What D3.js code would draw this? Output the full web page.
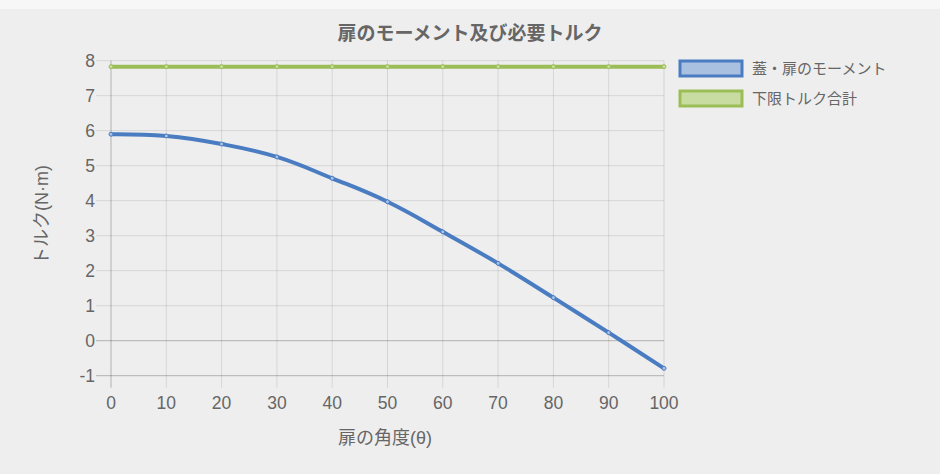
<!DOCTYPE html>
<html><head><meta charset="utf-8">
<script src="https://cdn.jsdelivr.net/npm/d3@7"></script>
<style>
html,body{margin:0;padding:0;background:#eeeeee;}
svg{display:block;}
text{font-family:"Liberation Sans","Noto Sans CJK JP",sans-serif;}
</style></head><body>
<svg id="c" width="940" height="474"></svg>
<script>
const angles = [0,10,20,30,40,50,60,70,80,90,100];
const momentValues = [5.90,5.85,5.62,5.25,4.64,3.97,3.11,2.21,1.23,0.23,-0.79];
const limitValues = [7.83,7.83,7.83,7.83,7.83,7.83,7.83,7.83,7.83,7.83,7.83];
const yTicks = [-1,0,1,2,3,4,5,6,7,8];
const seriesNames = ["蓋・扉のモーメント","下限トルク合計"];
const title = "扉のモーメント及び必要トルク";
const xTitle = "扉の角度(θ)";
const yTitle = "トルク(N·m)";

const svg = d3.select("#c");
svg.append("rect").attr("width",940).attr("height",474).attr("fill","#eeeeee");
svg.append("rect").attr("width",940).attr("height",9).attr("fill","#f7f7f7");

const x = d3.scaleLinear().domain([0,100]).range([111,664]);
const y = d3.scaleLinear().domain([-1,8]).range([375.7,60.7]);

// grid lines
const g = svg.append("g");
g.selectAll(".vg").data(angles).enter().append("line")
  .attr("x1",d=>x(d)).attr("x2",d=>x(d)).attr("y1",y(8)).attr("y2",y(-1)+12)
  .attr("stroke",d=>d===0?"rgba(0,0,0,0.25)":"rgba(0,0,0,0.1)").attr("stroke-width",1);
g.selectAll(".hg").data(yTicks).enter().append("line")
  .attr("x1",x(0)-15).attr("x2",x(100)).attr("y1",d=>y(d)).attr("y2",d=>y(d))
  .attr("stroke",d=>(d===0||d===-1)?"rgba(0,0,0,0.25)":"rgba(0,0,0,0.1)").attr("stroke-width",1);

// tick labels
svg.selectAll(".yl").data(yTicks).enter().append("text")
  .attr("x",x(0)-16).attr("y",d=>y(d)).attr("dy","0.36em")
  .attr("text-anchor","end").attr("font-size",17.5).attr("fill","#666").text(d=>d);
svg.selectAll(".xl").data(angles).enter().append("text")
  .attr("x",d=>x(d)).attr("y",409).attr("text-anchor","middle")
  .attr("font-size",17.5).attr("fill","#666").text(d=>d);

// titles
svg.append("text").attr("x",470).attr("y",40).attr("text-anchor","middle")
  .attr("font-size",19).attr("font-weight","bold").attr("fill","#666").text(title);
svg.append("text").attr("x",385).attr("y",444).attr("text-anchor","middle")
  .attr("font-size",18).attr("fill","#666").text(xTitle);
svg.append("text").attr("transform","translate(48,215) rotate(-90)").attr("text-anchor","middle")
  .attr("font-size",18).attr("fill","#666").text(yTitle);

// lines
const colors = ["#4a7cc2","#9bbd55"];
const fills = ["#aac0e0","#c8dca2"];
const series = [momentValues, limitValues];
const line = d3.line().x((d,i)=>x(angles[i])).y(d=>y(d)).curve(d3.curveCardinal.tension(-0.2));
series.forEach((vals,si)=>{
  svg.append("path").datum(vals).attr("d",line).attr("fill","none")
    .attr("stroke",colors[si]).attr("stroke-width",4);
  svg.selectAll(".p"+si).data(vals).enter().append("circle")
    .attr("cx",(d,i)=>x(angles[i])).attr("cy",d=>y(d)).attr("r",2)
    .attr("fill",fills[si]).attr("stroke",colors[si]).attr("stroke-width",1);
});

// legend
seriesNames.forEach((n,i)=>{
  const ly = 61 + i*30;
  svg.append("rect").attr("x",680).attr("y",ly).attr("width",62).attr("height",15)
    .attr("fill",fills[i]).attr("stroke",colors[i]).attr("stroke-width",3);
  svg.append("text").attr("x",752).attr("y",ly+8).attr("dy","0.35em")
    .attr("font-size",15).attr("fill","#666").text(n);
});
</script>
</body></html>
